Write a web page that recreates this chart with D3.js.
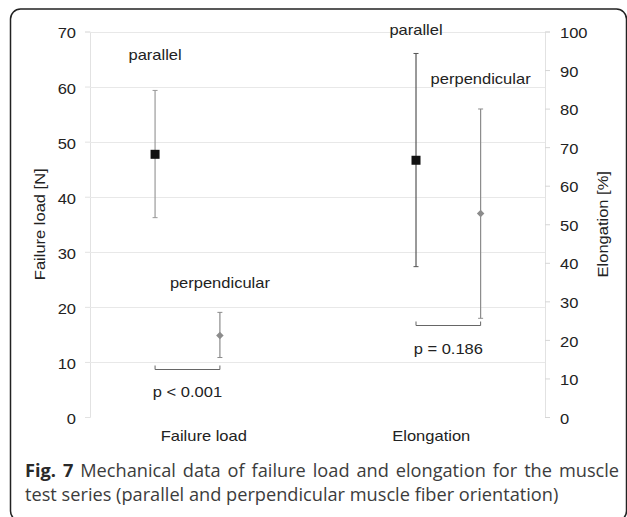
<!DOCTYPE html>
<html>
<head>
<meta charset="utf-8">
<script src="https://cdn.jsdelivr.net/npm/d3@7"></script>
<style>
  html, body { margin: 0; padding: 0; background: #fff; }
  svg { display: block; }
</style>
</head>
<body>
<svg id="chart" width="627" height="517"></svg>
<script>
// data
const categories = ["Failure load", "Elongation"];
const parallelMean = [47.7, 66.6];
const parallelHigh = [59.3, 94.3];
const parallelLow = [36.2, 39.0];
const perpMean = [14.8, 52.8];
const perpHigh = [19.0, 79.9];
const perpLow = [10.8, 25.6];
const pValues = ["p < 0.001", "p = 0.186"];
const leftTicks = [0, 10, 20, 30, 40, 50, 60, 70];
const rightTicks = [0, 10, 20, 30, 40, 50, 60, 70, 80, 90, 100];

// layout
const width = 627, height = 517;
const plot = { left: 90, right: 545, top: 31.5, bottom: 417 };
const font = "'Liberation Sans', Arial, sans-serif";
const stretch = 1.18; // the figure's lettering is widened horizontally
const xOffset = [
  { parallel: 0.286, perp: 0.571 },
  { parallel: 0.433, perp: 0.717 }
];
// label / bracket levels in each category's own axis units
const annot = [
  { parLabel: 64.9, perpLabel: 23.5, bracket: 8.7, pText: 3.7 },
  { parLabel: 99, perpLabel: 86.5, bracket: 23.8, pText: 16.4 }
];
const barColor = { parallel: ["#9a9a9a", "#555"], perp: ["#8c8c8c", "#8c8c8c"] };

const svg = d3.select("#chart");

function label(parent, x, y, txt, anchor = "middle", rot = 0) {
  return parent.append("text")
    .attr("transform", `translate(${x},${y})${rot ? ` rotate(${rot})` : ""} scale(${stretch},1)`)
    .attr("text-anchor", anchor)
    .attr("font-family", font).attr("font-size", 14).attr("fill", "#222")
    .text(txt);
}

// frame
svg.append("rect")
  .attr("x", 10.5).attr("y", 9)
  .attr("width", 616).attr("height", 512)
  .attr("rx", 10)
  .attr("fill", "none")
  .attr("stroke", "#222")
  .attr("stroke-width", 1.5);

const x = d3.scaleBand().domain(categories).range([plot.left, plot.right]);
const yLeft = d3.scaleLinear().domain([0, 70]).range([plot.bottom, plot.top]);
const yRight = d3.scaleLinear().domain([0, 100]).range([plot.bottom, plot.top]);
const yFor = (i) => (i === 0 ? yLeft : yRight);

// gridlines + left axis
const gLeft = svg.append("g").attr("transform", `translate(${plot.left},0)`);
gLeft.call(d3.axisLeft(yLeft).tickValues(leftTicks).tickSize(5));
gLeft.select(".domain").attr("stroke", "#e2e2e2");
gLeft.selectAll(".tick line").attr("stroke", "#e2e2e2");
gLeft.selectAll(".tick text")
  .attr("x", 0).attr("dy", "0.46em")
  .attr("transform", `translate(-14,0) scale(${stretch},1)`)
  .attr("font-family", font).attr("font-size", 14).attr("fill", "#222");

svg.append("g").selectAll("line")
  .data(leftTicks.slice(1))
  .join("line")
  .attr("x1", plot.left).attr("x2", plot.right)
  .attr("y1", (d) => Math.round(yLeft(d)) + 0.5)
  .attr("y2", (d) => Math.round(yLeft(d)) + 0.5)
  .attr("stroke", "#e8e8e8");

// right axis
const gRight = svg.append("g").attr("transform", `translate(${plot.right},0)`);
gRight.call(d3.axisRight(yRight).tickValues(rightTicks).tickSize(5));
gRight.select(".domain").attr("stroke", "#e2e2e2");
gRight.selectAll(".tick line").attr("stroke", "#d6d6d6");
gRight.selectAll(".tick text")
  .attr("x", 0).attr("dy", "0.44em")
  .attr("transform", `translate(15,0) scale(${stretch},1)`)
  .attr("font-family", font).attr("font-size", 14).attr("fill", "#222");

// category labels
categories.forEach((c) => label(svg, x(c) + x.bandwidth() / 2, 441, c));

// axis titles
const midY = (plot.top + plot.bottom) / 2;
label(svg, 45, midY, "Failure load [N]", "middle", -90);
label(svg, 608, midY, "Elongation [%]", "middle", -90);

// series
const marks = svg.append("g");
categories.forEach((c, i) => {
  const y = yFor(i);
  const px = x(c) + x.bandwidth() * xOffset[i].parallel;
  const qx = x(c) + x.bandwidth() * xOffset[i].perp;

  const drawBar = (cx, lo, hi, col) => {
    marks.append("line")
      .attr("x1", cx).attr("x2", cx).attr("y1", y(lo)).attr("y2", y(hi))
      .attr("stroke", col).attr("stroke-width", 1.2);
    [lo, hi].forEach((v) => {
      marks.append("line")
        .attr("x1", cx - 2.5).attr("x2", cx + 2.5).attr("y1", y(v)).attr("y2", y(v))
        .attr("stroke", col).attr("stroke-width", 1);
    });
  };
  drawBar(px, parallelLow[i], parallelHigh[i], barColor.parallel[i]);
  drawBar(qx, perpLow[i], perpHigh[i], barColor.perp[i]);

  marks.append("rect")
    .attr("x", px - 4.5).attr("y", y(parallelMean[i]) - 4.5)
    .attr("width", 9).attr("height", 9)
    .attr("fill", "#111");
  marks.append("path")
    .attr("d", d3.symbol(d3.symbolDiamond2, 36)())
    .attr("transform", `translate(${qx},${y(perpMean[i])})`)
    .attr("fill", "#8c8c8c");

  // series labels
  label(marks, px, y(annot[i].parLabel), "parallel");
  label(marks, qx, y(annot[i].perpLabel), "perpendicular");

  // significance bracket
  const by = Math.round(y(annot[i].bracket)) + 0.5;
  marks.append("path")
    .attr("d", `M${px},${by - 4}V${by}H${qx}V${by - 4}`)
    .attr("fill", "none").attr("stroke", "#666").attr("stroke-width", 1);
  label(marks, (px + qx) / 2, y(annot[i].pText), pValues[i]);
});

// caption (first line justified, like the journal layout)
const cap = svg.append("g")
  .attr("font-family", "'Open Sans', 'Noto Sans', sans-serif")
  .attr("font-size", 18.2)
  .attr("fill", "#3c3c3c");
const line1 = cap.append("text").attr("x", 25).attr("y", 477)
  .attr("word-spacing", 2.2);
line1.append("tspan").attr("font-weight", "bold").attr("fill", "#2a2a2a").text("Fig. 7");
line1.append("tspan").text(" Mechanical data of failure load and elongation for the muscle");
cap.append("text").attr("x", 25).attr("y", 501)
  .text("test series (parallel and perpendicular muscle fiber orientation)");
</script>
</body>
</html>
